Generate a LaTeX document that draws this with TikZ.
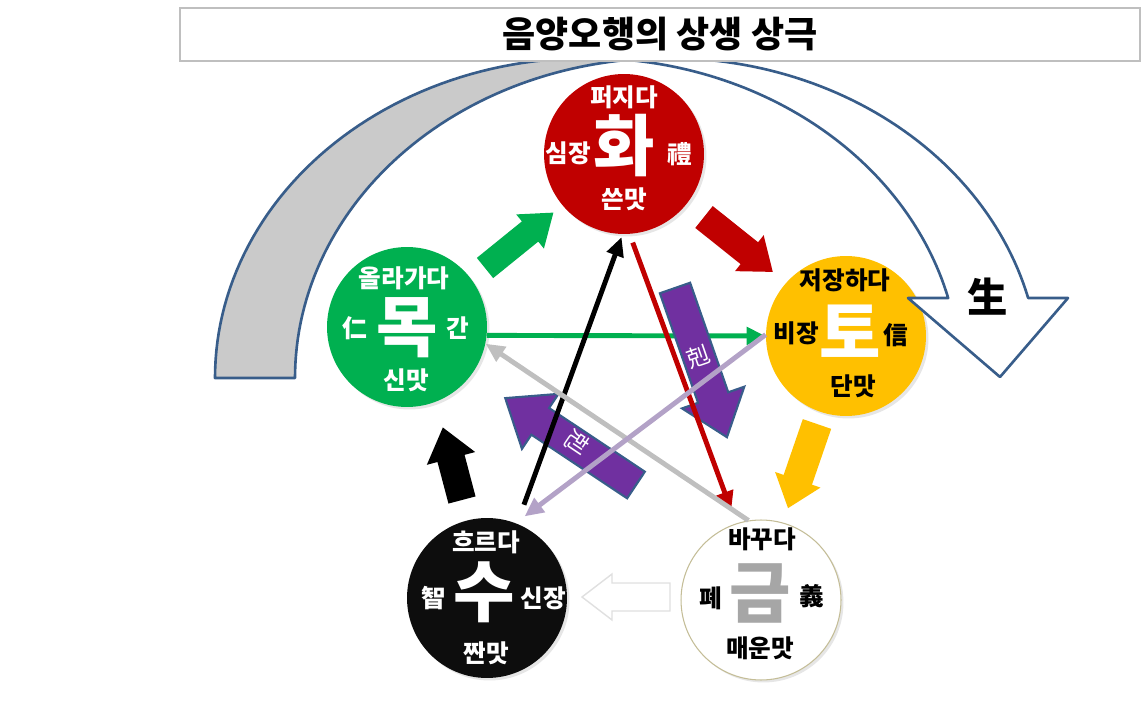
\documentclass[tikz,border=0pt]{standalone}
\usepackage{fontspec}
\setmainfont{Noto Sans CJK KR}
\usepackage{xcolor}
\usetikzlibrary{arrows.meta,calc,positioning,shadows}
\definecolor{hwared}{HTML}{C00000}
\definecolor{mokgreen}{HTML}{00B050}
\definecolor{thoyellow}{HTML}{FFC000}
\definecolor{subl}{HTML}{0D0D0D}
\definecolor{geumrim}{HTML}{C4BD97}
\definecolor{geumgray}{HTML}{A6A6A6}
\definecolor{kukpurple}{HTML}{7030A0}
\definecolor{lilac}{HTML}{B3A2C7}
\definecolor{linegray}{HTML}{BFBFBF}
\definecolor{bandblue}{HTML}{385D8A}
\definecolor{bandgray}{HTML}{CACACA}
\tikzset{%
	element/.style = {circle, minimum size=3.2cm, inner sep=0pt, drop shadow={opacity=0.2,shadow xshift=0.05cm,shadow yshift=-0.05cm}},
	small/.style   = {font=\bfseries\fontsize{14}{14}\selectfont, inner sep=0pt},
	big/.style     = {font=\bfseries\fontsize{38}{38}\selectfont, inner sep=0pt},
	link/.style    = {line width=2.8pt, -{Triangle[length=0.38cm,width=0.34cm]}},
	band/.style    = {draw=bandblue, line width=1.5pt, line join=round},
	kuk/.style     = {fill=kukpurple, draw=bandblue, line width=1.2pt},
}
% block arrow: tail, angle, length, shaft half, head half, head length, style
\newcommand{\blockarrow}[7]{%
	\path[#7, shift={(#1)}, rotate=#2]
		(0,-#4) -- ({#3-#6},-#4) -- ({#3-#6},-#5) -- (#3,0)
		-- ({#3-#6},#5) -- ({#3-#6},#4) -- (0,#4) -- cycle;
}
\begin{document}
\begin{tikzpicture}[x=0.02cm, y=-0.02cm]
	\useasboundingbox (0,0) rectangle (1143,716);
	
	% five elements
	\node[element, fill=hwared] (hwa) at (624,154) {};
	\node[element, fill=mokgreen] (mok) at (407,327) {};
	\node[element, fill=thoyellow] (tho) at (846,336) {};
	\node[element, fill=subl] (su) at (487,598) {};
	\node[element, fill=white, draw=geumrim, line width=0.6pt] (geum) at (761,600) {};
	
	\node[small, white] (hwatop) at (624,97) {퍼지다};
	\node[big, white] (hwabig) at (624,146) {화};
	\node[small, white] (hwaleft) at (568,153) {심장};
	\node[small, white] (hwaright) at (680,154) {禮};
	\node[small, white] (hwabot) at (624,199) {쓴맛};
	
	\node[small, white] (moktop) at (404,278) {올라가다};
	\node[big, white] (mokbig) at (407,328) {목};
	\node[small, white] (mokleft) at (355,328) {仁};
	\node[small, white] (mokright) at (458,328) {간};
	\node[small, white] (mokbot) at (406,380) {신맛};
	
	\node[small] (thotop) at (845,280) {저장하다};
	\node[big, white] (thobig) at (850,331) {토};
	\node[small] (tholeft) at (796,333) {비장};
	\node[small] (thoright) at (896,335) {信};
	\node[small] (thobot) at (853,386) {단맛};
	
	\node[small, white] (sutop) at (486,542) {흐르다};
	\node[big, white] (subig) at (484,592) {수};
	\node[small, white] (suleft) at (434,598) {智};
	\node[small, white] (suright) at (543,598) {신장};
	\node[small, white] (subot) at (486,653) {짠맛};
	
	\node[small] (geumtop) at (762,539) {바꾸다};
	\node[big, geumgray] (geumbig) at (760,593) {금};
	\node[small] (geumleft) at (711,598) {폐};
	\node[small] (geumright) at (812,596) {義};
	\node[small] (geumbot) at (760,648) {매운맛};
	
	% sangsaeng block arrows
	\blockarrow{485,268}{39}{88}{13}{22}{30}{fill=mokgreen}
	\blockarrow{704,217}{-38.6}{88}{14}{23}{30}{fill=hwared}
	\blockarrow{817,424}{-109}{89}{15}{24}{30}{fill=thoyellow}
	\blockarrow{670,597}{180}{88}{14}{23}{30}{fill=white, draw=black!12, line width=0.8pt}
	\blockarrow{462,500}{104.8}{75}{14}{25}{32}{fill=black}
	
	% sanggeuk lines and arrows
	\draw[link, mokgreen] (mok.-6) -- (tho.180);
	\blockarrow{675,288}{-70.8}{158}{16}{33}{42}{kuk}
	\blockarrow{636,485}{146.4}{157}{16}{33}{42}{kuk}
	\node[white, rotate=19, font=\fontsize{13}{13}\selectfont] (kukone) at (698,357) {剋};
	\node[white, rotate=-124, font=\fontsize{13}{13}\selectfont] (kuktwo) at (577,443) {剋};
	\draw[link, black, shorten <=0.4cm, shorten >=0.06cm] (su.68) -- (hwa.-91);
	\draw[link, hwared, shorten <=0.18cm, shorten >=0.28cm] (hwa.-86) -- (geum.108);
	\draw[link, linegray] (geum.99.5) -- (mok.-12);
	\draw[link, lilac, shorten >=0.22cm] (tho.179) -- (su.69);
	
	% curved arrow
	\draw[band, fill=bandgray]
		plot[domain=180:83.8, samples=60] ({587.5+372.5*cos(\x)},{378-320*sin(\x)})
		-- plot[domain=96.2:180, samples=60] ({667.5+372.5*cos(\x)},{378-320*sin(\x)})
		-- cycle;
	\draw[band, fill=white]
		plot[domain=96.2:14.48, samples=60] ({667.5+372.5*cos(\x)},{378-320*sin(\x)})
		-- (1068,298) -- (1000,377) -- (908,298)
		-- plot[domain=14.48:83.8, samples=60] ({587.5+372.5*cos(\x)},{378-320*sin(\x)})
		-- cycle;
	\node[font=\bfseries\fontsize{23}{23}\selectfont, inner sep=0pt] (saeng) at (988,297) {生};
	
	% title
	\node[draw=linegray, fill=white, line width=0.8pt, minimum width=19.2cm, minimum height=1.06cm,
		font=\bfseries\fontsize{20.5}{20.5}\selectfont] (title) at (660,34.5) {음양오행의 상생 상극};
\end{tikzpicture}
\end{document}
